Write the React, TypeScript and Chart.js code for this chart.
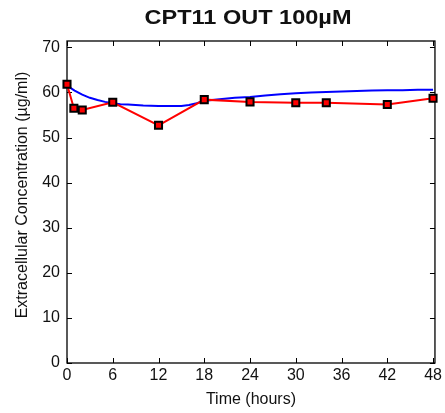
import React, { useEffect, useRef } from "react";
import { Chart, registerables } from "chart.js";

Chart.register(...registerables);

// ---- Data ----
const chartTitle = "CPT11 OUT 100\u00B5M";
const xAxisTitle = "Time (hours)";
const yAxisTitle = "Extracellular Concentration (\u00B5g/ml)";

const xTicks = [0, 6, 12, 18, 24, 30, 36, 42, 48];
const yTicks = [0, 10, 20, 30, 40, 50, 60, 70];

const measuredTime = [0, 0.9, 2, 6, 12, 18, 24, 30, 34, 42, 48];
const measuredConc = [61.8, 56.5, 56.1, 57.8, 52.7, 58.4, 57.9, 57.7, 57.7, 57.3, 58.7];

const modelTime = [0, 1, 2, 3, 4, 5, 6, 7, 8, 9, 10, 12, 14, 15, 16, 17, 18, 19, 20, 22, 24, 26, 28, 30, 32, 34, 36, 38, 40, 42, 44, 46, 48];
const modelConc = [61.5, 60.4, 59.5, 58.8, 58.3, 57.9, 57.6, 57.4, 57.3, 57.2, 57.1, 57.0, 57.0, 57.0, 57.2, 57.6, 58.1, 58.3, 58.5, 58.8, 59.0, 59.3, 59.6, 59.8, 60.0, 60.1, 60.2, 60.3, 60.4, 60.5, 60.5, 60.6, 60.6];

const FONT = "'Liberation Sans', Arial, Helvetica, sans-serif";
const TEXT = "#111111";

const frameAndTitle = {
  id: "frameAndTitle",
  beforeDatasetsDraw(chart: any) {
    const { ctx, chartArea } = chart;
    const xs = chart.scales.x;
    const ys = chart.scales.y;
    const { left, right, top, bottom } = chartArea;
    ctx.save();
    ctx.strokeStyle = "#000";
    ctx.lineWidth = 1.3;
    ctx.strokeRect(left, top, right - left, bottom - top);
    const tl = 5;
    ctx.beginPath();
    xTicks.forEach((v) => {
      const px = Math.round(xs.getPixelForValue(v)) + 0.5;
      ctx.moveTo(px, bottom);
      ctx.lineTo(px, bottom - tl);
      ctx.moveTo(px, top);
      ctx.lineTo(px, top + tl);
    });
    yTicks.forEach((v) => {
      const py = Math.round(ys.getPixelForValue(v)) + 0.5;
      ctx.moveTo(left, py);
      ctx.lineTo(left + tl, py);
      ctx.moveTo(right, py);
      ctx.lineTo(right - tl, py);
    });
    ctx.lineWidth = 1;
    ctx.stroke();
    ctx.restore();
  },
  afterDraw(chart: any) {
    const { ctx } = chart;
    ctx.save();
    ctx.fillStyle = TEXT;
    ctx.font = `bold 21px ${FONT}`;
    ctx.textAlign = "center";
    ctx.textBaseline = "alphabetic";
    ctx.translate(248, 24);
    ctx.scale(1.12, 1);
    ctx.fillText(chartTitle, 0, 0);
    ctx.restore();

    ctx.save();
    ctx.fillStyle = TEXT;
    ctx.font = `16px ${FONT}`;
    ctx.textAlign = "center";
    ctx.textBaseline = "middle";
    ctx.translate(23, 195);
    ctx.rotate(-Math.PI / 2);
    ctx.fillText(yAxisTitle, 0, 0);
    ctx.restore();
  },
};

export default function App() {
  const canvasRef = useRef<HTMLCanvasElement | null>(null);

  useEffect(() => {
    if (!canvasRef.current) return;
    const chart = new Chart(canvasRef.current, {
      type: "line",
      data: {
        datasets: [
          {
            label: "Measured",
            data: measuredTime.map((t, i) => ({ x: t, y: measuredConc[i] })),
            borderColor: "#FF0000",
            borderWidth: 2,
            backgroundColor: "#FF0000",
            pointStyle: "rect",
            pointRadius: 5,
            pointBorderWidth: 2,
            pointBorderColor: "#000000",
            pointBackgroundColor: "#FF0000",
            tension: 0,
            clip: false as any,
            order: 0,
          },
          {
            label: "Model",
            data: modelTime.map((t, i) => ({ x: t, y: modelConc[i] })),
            borderColor: "#0000FF",
            borderWidth: 2,
            pointRadius: 0,
            tension: 0,
            clip: false as any,
            order: 1,
          },
        ],
      },
      options: {
        animation: false,
        responsive: false,
        maintainAspectRatio: false,
        layout: { padding: { top: 41, right: 10, left: 0, bottom: 0 } },
        plugins: {
          legend: { display: false },
          tooltip: { enabled: false },
          title: { display: false },
        },
        scales: {
          x: {
            type: "linear",
            min: 0,
            max: 48.25,
            afterFit: (s: any) => {
              s.height = 50;
            },
            afterBuildTicks: (s: any) => {
              s.ticks = xTicks.map((v) => ({ value: v }));
            },
            grid: { display: false, drawTicks: false },
            border: { display: false },
            ticks: {
              padding: 3,
              color: TEXT,
              font: { family: FONT, size: 16 },
              maxRotation: 0,
              autoSkip: false,
            },
            title: {
              display: true,
              text: xAxisTitle,
              color: TEXT,
              font: { family: FONT, size: 16 },
              padding: { top: 0, bottom: 4 },
            },
          },
          y: {
            type: "linear",
            min: 0,
            max: 71.4,
            afterFit: (s: any) => {
              s.width = 67;
            },
            afterBuildTicks: (s: any) => {
              s.ticks = yTicks.map((v) => ({ value: v }));
            },
            grid: { display: false, drawTicks: false },
            border: { display: false },
            ticks: {
              padding: 7,
              color: TEXT,
              font: { family: FONT, size: 16 },
              autoSkip: false,
            },
            title: { display: false },
          },
        },
      },
      plugins: [frameAndTitle],
    });
    return () => chart.destroy();
  }, []);

  return (
    <div style={{ position: "absolute", left: 0, top: 0, width: 445, height: 413, background: "#fff" }}>
      <canvas ref={canvasRef} width={445} height={413} style={{ display: "block" }} />
    </div>
  );
}
